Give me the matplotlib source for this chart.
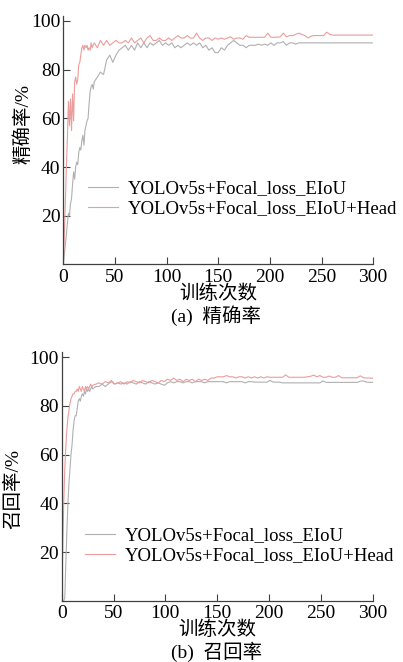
import numpy as np
import matplotlib.pyplot as plt

plt.rcParams['font.family'] = ['Liberation Serif', 'Noto Sans CJK SC']
plt.rcParams['axes.unicode_minus'] = False

# epochs: every epoch up to 29, then every 3rd epoch
epochs = list(range(0, 30)) + list(range(30, 301, 3))

labels = ['YOLOv5s+Focal_loss_EIoU', 'YOLOv5s+Focal_loss_EIoU+Head']

# (a) precision
prec_base = [0, 4, 8, 12, 17, 21, 20, 25, 27, 33, 38, 35, 40, 42, 41, 46, 48, 47, 51, 53,
             49, 55, 57, 59, 60, 66, 71, 73, 74, 72,
             75, 77, 79, 78, 84, 86, 83, 86, 88, 89,
             90, 88, 90, 88, 91, 89, 91, 89, 91, 90,
             91, 92, 90, 91, 90, 91, 89, 90, 89, 90,
             91, 90, 91, 90, 91, 89, 90, 88, 89, 87,
             87, 89, 88, 90, 91, 92, 91, 90, 90, 89,
             90, 90, 90, 90.5, 90, 90.5, 90, 91, 90, 91,
             91, 91.5, 90, 91, 91, 90.5, 91, 91, 91, 91,
             91, 91, 91, 91, 91, 91, 91, 91, 91, 91,
             91, 91, 91, 91, 91, 91, 91, 91, 91, 91,
             91]
prec_head = [0, 12, 25, 40, 52, 67, 57, 68, 55, 70, 59, 75, 77, 74, 76, 82, 83, 86, 89, 90,
             88, 90, 89, 90, 88, 89, 88, 91, 89, 90,
             91, 89, 92, 90, 92, 90, 91, 92, 91, 91,
             92, 91, 93, 91, 92, 93, 91, 93, 94, 92,
             92, 93, 92, 92, 93, 92, 93, 94, 93, 93,
             94, 93, 93, 95, 93, 92, 93, 93, 92, 93,
             92.5, 93, 92.5, 93, 93.5, 92.5, 93, 93, 92.5, 94,
             93.3, 93.3, 93.3, 93.3, 93.3, 93.3, 95, 93.3, 93.3, 93.3,
             93.5, 95, 93.5, 94, 94, 94.5, 95, 94.5, 94, 93,
             93.8, 94, 94, 94, 94, 95.4, 94.5, 94.2, 94.2, 94.2,
             94.2, 94.2, 94.2, 94.2, 94.2, 94.2, 94.2, 94.2, 94.2, 94.2,
             94.2]

# (b) recall
rec_base = [0, 0, 0, 1, 15, 28, 40, 48, 54, 60, 64, 70, 74, 76, 76, 79, 82, 83, 82, 84,
            85, 84, 86, 85, 87, 86, 87, 86, 87, 88,
            87, 88, 88, 89, 88, 89, 90, 89, 89.5, 89,
            89.5, 89, 90, 89.5, 89, 90, 89.5, 89, 90, 89.5,
            89, 89.5, 89, 88.5, 89.5, 90, 89.5, 90, 90, 89.5,
            90, 90, 89.5, 90, 90, 90, 89.5, 90, 90, 90,
            90, 90, 90, 89.5, 90, 90, 90, 90, 90, 89.5,
            90, 90, 89.8, 89.8, 89.8, 89.8, 89.8, 90.5, 89.8, 89.8,
            89.8, 89.5, 89.5, 89.5, 89.5, 89.5, 89.5, 89.5, 89.5, 89.5,
            89.5, 89.5, 89.5, 89.5, 90.3, 89.7, 89.7, 89.7, 89.7, 89.7,
            89.7, 89.7, 89.7, 89.7, 89.7, 89.7, 90.2, 90.3, 89.8, 89.7,
            89.7]
rec_head = [0, 20, 40, 54, 63, 70, 75, 78, 81, 83, 84, 85, 85, 86, 86, 87, 86, 88, 87, 86,
            88, 87, 86, 88, 87, 88, 87, 88, 89, 88,
            88.5, 89, 89.5, 89, 90, 89.5, 90.5, 89, 89.5, 90,
            89, 90, 89.5, 90.5, 90, 89.5, 90.5, 90, 89.5, 90.5,
            90, 89.5, 90.5, 90, 91, 90.5, 91.5, 90.5, 91, 90,
            91, 90.5, 91, 90, 91, 90.5, 91, 90.5, 91.5, 91.5,
            92, 92, 92, 92.5, 92, 92, 91.5, 92, 92, 91.5,
            92, 91.5, 92, 91.5, 92, 91.5, 92, 91.8, 91.8, 91.8,
            91.8, 91.8, 92.8, 91.8, 91.8, 91.8, 91.8, 91.8, 91.8, 92,
            92.2, 92.7, 92, 92.5, 91.8, 91.8, 92.3, 91.8, 91.8, 92.5,
            91.6, 91.6, 91.6, 91.6, 91.6, 91.6, 92.4, 91.6, 91.5, 91.5,
            91.4]

colors = ['#b0b0b0', '#ec9c9c']
fs = 14

fig = plt.figure(figsize=(4.03, 6.62), dpi=100)
ax1 = fig.add_axes([0.157, 0.6005, 0.769, 0.3752])
ax2 = fig.add_axes([0.153, 0.0926, 0.772, 0.375])

panels = [
    (ax1, prec_base, prec_head, '精确率/%', (-0.101, 0.566), (0.08, 0.264), '(a)  精确率', 0.5227),
    (ax2, rec_base, rec_head, '召回率/%', (-0.128, 0.45), (0.075, 0.221), '(b)  召回率', 0.0155),
]

for ax, base, head, ylab, ylc, legpos, cap, capy in panels:
    ax.plot(epochs, base, color=colors[0], lw=0.8, label=labels[0])
    ax.plot(epochs, head, color=colors[1], lw=0.8, label=labels[1])
    ax.set_xlim(0, 300)
    ax.set_ylim(0, 102)
    ax.set_xticks([0, 50, 100, 150, 200, 250, 300])
    ax.set_yticks([20, 40, 60, 80, 100])
    ax.spines['top'].set_visible(False)
    ax.spines['right'].set_visible(False)
    for s in ['left', 'bottom']:
        ax.spines[s].set_color('#404040')
        ax.spines[s].set_linewidth(0.9)
    ax.tick_params(direction='in', length=4.8, width=0.8, color='#404040',
                   labelsize=fs, pad=3)
    ax.tick_params(axis='y', pad=2)
    ax.set_ylabel(ylab, fontsize=fs)
    ax.yaxis.set_label_coords(*ylc)
    ax.set_xlabel('训练次数', fontsize=fs)
    ax.xaxis.set_label_coords(0.5, -0.08)
    ax.legend(loc='center left', bbox_to_anchor=legpos, frameon=False,
              fontsize=13.5, handlelength=1.6, handletextpad=0.5,
              labelspacing=0.15, borderpad=0, borderaxespad=0)
    fig.text(0.537, capy, cap, ha='center', va='center', fontsize=fs)

fig.savefig('out.png', dpi=100)
